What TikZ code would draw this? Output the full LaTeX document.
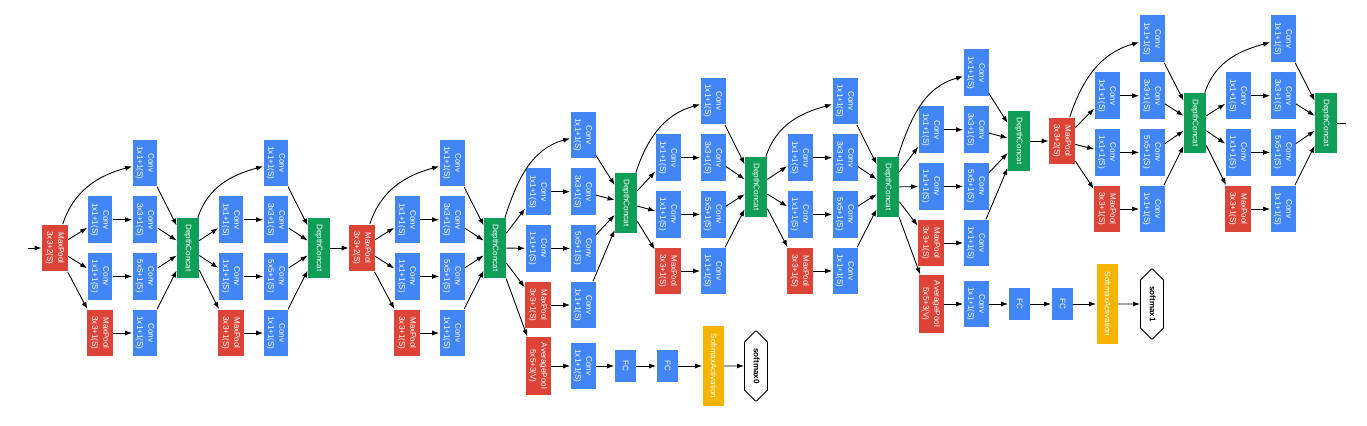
\documentclass[tikz,border=0pt]{standalone}
\usepackage{fontspec}
\setsansfont{Liberation Sans}
\usepackage{graphicx}
\usetikzlibrary{arrows.meta,shapes.misc}

\definecolor{gblue}{RGB}{66,133,244}
\definecolor{gred}{RGB}{219,68,55}
\definecolor{ggreen}{RGB}{15,157,88}
\definecolor{gyellow}{RGB}{244,180,0}

% text turned to read downwards
\newcommand{\vtext}[1]{\rotatebox{-90}{\begin{tabular}{@{}c@{}}#1\end{tabular}}}

\tikzset{
  layer/.style={inner sep=0pt, text=white, font=\sffamily\fontsize{4.6}{6.3}\selectfont},
  conv/.style={layer, fill=gblue, minimum width=0.5cm, minimum height=0.94cm},
  pool/.style={layer, fill=gred, minimum width=0.52cm, minimum height=0.94cm},
  avgpool/.style={layer, fill=gred, minimum width=0.5cm, minimum height=1.16cm},
  concat/.style={layer, fill=ggreen, minimum width=0.44cm, minimum height=1.2cm},
  fc/.style={layer, fill=gblue, minimum width=0.42cm, minimum height=0.64cm},
  act/.style={layer, fill=gyellow, minimum width=0.42cm, minimum height=1.62cm},
  prob/.style={layer, text=black, font=\sffamily\bfseries\fontsize{4.6}{6.3}\selectfont,
    draw, fill=white, line width=0.5pt, chamfered rectangle,
    chamfered rectangle xsep=0.11cm, chamfered rectangle ysep=0.28cm,
    minimum width=0.46cm, minimum height=1.4cm},
  link/.style={->, line width=0.5pt}
}

% inception block: name, input, x of first column, y of top row, y of concat
\newcommand{\inception}[5]{%
  \node[conv] (#1-a) at ({#3+45},{#4}) {\vtext{Conv\\1x1+1(S)}};
  \node[conv] (#1-b1) at ({#3},{#4-56.7}) {\vtext{Conv\\1x1+1(S)}};
  \node[conv] (#1-b2) at ({#3+45},{#4-56.7}) {\vtext{Conv\\3x3+1(S)}};
  \node[conv] (#1-c1) at ({#3},{#4-113.4}) {\vtext{Conv\\1x1+1(S)}};
  \node[conv] (#1-c2) at ({#3+45},{#4-113.4}) {\vtext{Conv\\5x5+1(S)}};
  \node[pool] (#1-d1) at ({#3},{#4-170}) {\vtext{MaxPool\\3x3+1(S)}};
  \node[conv] (#1-d2) at ({#3+45},{#4-170}) {\vtext{Conv\\1x1+1(S)}};
  \node[concat] (#1-cat) at ({#3+88},{#5}) {\vtext{DepthConcat}};
  \draw[link] (#2) to[out=72,in=195] (#1-a);
  \draw[link] (#2) -- (#1-b1);
  \draw[link] (#2) -- (#1-c1);
  \draw[link] (#2) -- (#1-d1);
  \draw[link] (#1-b1) -- (#1-b2);
  \draw[link] (#1-c1) -- (#1-c2);
  \draw[link] (#1-d1) -- (#1-d2);
  \draw[link] (#1-a) -- (#1-cat);
  \draw[link] (#1-b2) -- (#1-cat);
  \draw[link] (#1-c2) -- (#1-cat);
  \draw[link] (#1-d2) -- (#1-cat);
}

\begin{document}
\begin{tikzpicture}[x=0.02cm, y=0.02cm, >={Latex[length=1.4mm,width=1mm]}]
  \fill[white] (0,0) rectangle (1367,426);
  \useasboundingbox (0,0) rectangle (1367,426);

  % stem
  \coordinate (start) at (28,178);
  \node[pool] (pool1) at (55,178) {\vtext{MaxPool\\3x3+2(S)}};
  \draw[link] (start) -- (pool1);

  \inception{i3a}{pool1}{100}{263}{178}
  \inception{i3b}{i3a-cat}{231}{263}{178}

  \node[pool] (pool2) at (362,178) {\vtext{MaxPool\\3x3+2(S)}};
  \draw[link] (i3b-cat) -- (pool2);

  \inception{i4a}{pool2}{407}{263}{178}
  \inception{i4b}{i4a-cat}{538}{291}{223}
  \inception{i4c}{i4b-cat}{668}{325}{239}
  \inception{i4d}{i4c-cat}{800}{325}{239}
  \inception{i4e}{i4d-cat}{931}{353}{285}

  \node[pool] (pool3) at (1062,285) {\vtext{MaxPool\\3x3+2(S)}};
  \draw[link] (i4e-cat) -- (pool3);

  \inception{i5a}{pool3}{1107}{387}{303}
  \inception{i5b}{i5a-cat}{1238}{387}{303}

  \coordinate (finish) at (1346,303);
  \draw[line width=0.5pt] (i5b-cat) -- (finish);

  % first side output
  \node[avgpool] (avg0) at (538,60) {\vtext{AveragePool\\5x5+3(V)}};
  \node[conv] (aconv0) at (583,60) {\vtext{Conv\\1x1+1(S)}};
  \node[fc] (fca0) at (625,60) {\vtext{FC}};
  \node[fc] (fcb0) at (667,60) {\vtext{FC}};
  \node[act] (act0) at (713,60) {\vtext{SoftmaxActivation}};
  \node[prob] (soft0) at (756,60) {\vtext{softmax0}};
  \draw[link] (i4a-cat) -- (avg0);
  \draw[link] (avg0) -- (aconv0);
  \draw[link] (aconv0) -- (fca0);
  \draw[link] (fca0) -- (fcb0);
  \draw[link] (fcb0) -- (act0);
  \draw[link] (act0) -- (soft0);

  % second side output
  \node[avgpool] (avg1) at (931,122) {\vtext{AveragePool\\5x5+3(V)}};
  \node[conv] (aconv1) at (976,122) {\vtext{Conv\\1x1+1(S)}};
  \node[fc] (fca1) at (1019,122) {\vtext{FC}};
  \node[fc] (fcb1) at (1062,122) {\vtext{FC}};
  \node[act] (act1) at (1107,122) {\vtext{SoftmaxActivation}};
  \node[prob] (soft1) at (1152,122) {\vtext{softmax1}};
  \draw[link] (i4d-cat) -- (avg1);
  \draw[link] (avg1) -- (aconv1);
  \draw[link] (aconv1) -- (fca1);
  \draw[link] (fca1) -- (fcb1);
  \draw[link] (fcb1) -- (act1);
  \draw[link] (act1) -- (soft1);
\end{tikzpicture}
\end{document}
